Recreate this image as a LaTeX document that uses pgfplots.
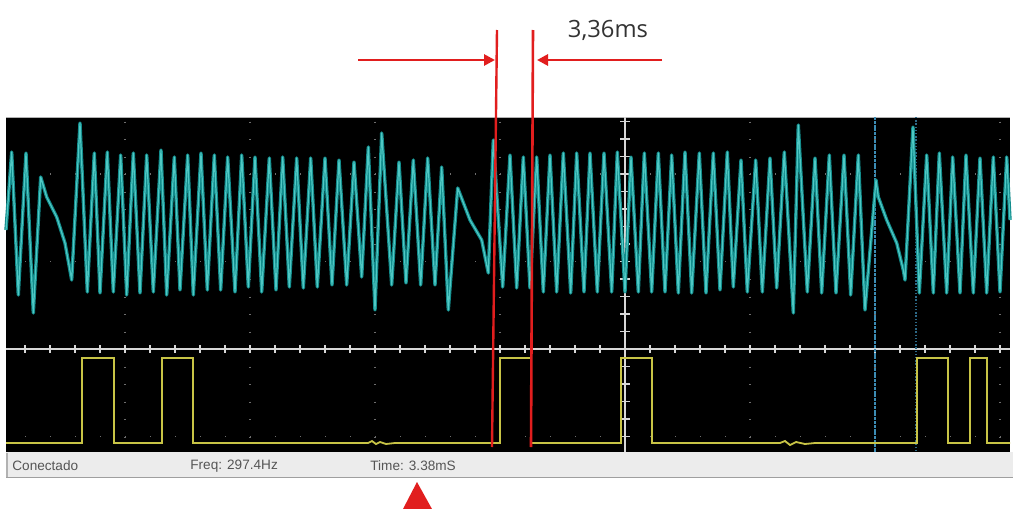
\documentclass[border=0pt]{standalone}
\usepackage{pgfplots}
\pgfplotsset{compat=1.18}
\usepackage{pgfplotstable}
\usetikzlibrary{arrows.meta}
\usepackage{fontspec}
\setmainfont{Liberation Sans}
\newfontfamily\opensans{Open Sans}

\definecolor{scopecyan}{RGB}{18,140,140}
\definecolor{scopecyanl}{RGB}{80,200,196}
\definecolor{scopeyel}{RGB}{200,196,70}
\definecolor{cursred}{RGB}{225,30,30}
\definecolor{gridgray}{RGB}{110,110,110}
\definecolor{axgray}{RGB}{215,215,215}
\definecolor{barbg}{RGB}{236,236,236}
\definecolor{bartext}{RGB}{85,85,85}
\definecolor{cursblue}{RGB}{60,140,180}
\definecolor{cursblueb}{RGB}{45,105,135}

% Channel A (cyan), pixel coordinates: x, y (y measured downward)
\pgfplotstableread{
x y
6 230
11.7 152
18.3 295
26 153
33.3 313
40.7 177
46.7 197
56.7 217
65 243
71.7 280
80 123
87.3 292
94.3 153
100 293
107.3 152
113.3 292
120.7 155
126.7 295
133.3 153
140 293
146.7 155
153.3 292
161 150
166.7 295
174.3 157
180 290
187.7 155
193.3 295
201 153
207.3 290
214.3 155
220.7 290
227.7 157
235 292
241.7 155
248.3 287
255 157
261.7 292
269.3 158
276 290
282.7 157
289.3 287
296.7 158
303.3 288
310.7 158
317.3 287
325 158
332 285
339 160
346.7 285
354 162
361.7 277
368.3 147
375 310
381.7 133
391.7 285
399 162
406 283
413.3 160
420.7 285
427.7 158
435 285
441.7 167
448.3 310
457.7 188
470 220
481.7 240
488.3 273
493.3 140
502.7 287
510 155
516.7 288
523.3 157
530 288
536.7 157
543.3 292
550 155
556.7 292
563.3 153
570.7 293
576.7 153
584 292
590 153
597.3 292
604 153
611.7 292
617.3 152
625 292
631 157
638.3 292
644.3 153
651.7 292
658.3 153
665 292
671.7 155
678.3 293
685 152
691.7 293
699.3 153
706 293
713.3 153
720 290
727.3 152
733.3 287
741 160
747.3 292
755.7 160
762.3 292
770 158
776.7 288
784.3 152
793.3 313
798.3 125
807.3 292
815 158
821.7 293
829.3 155
836 293
844 155
850.7 295
858.3 155
865 310
876 180
878.3 197
886.7 220
896.7 243
903.3 270
905 280
913 127
919.3 293
926.7 155
933.3 293
939.3 153
946.7 293
952.7 157
960 293
966 155
973.3 293
980 158
986.7 293
993.3 157
1000 292
1006.7 157
1010 220
}\chanA

% Channel B (yellow)
\pgfplotstableread{
x y
6 443
82 443
82 358
114 358
114 443
162 443
162 358
193 358
193 443
368 443
372 441
376 444
380 442
386 444
395 443
500 443
500 358
531 358
531 443
621 443
621 358
652 358
652 443
780 443
785 441
790 445
796 442
805 444
815 443
917 443
917 358
948 358
948 443
970 443
970 358
987 358
987 443
1010 443
}\chanB

\begin{document}
\begin{tikzpicture}
\begin{axis}[
  scale only axis, width=506.5pt, height=254.5pt,
  xmin=0, xmax=1013, ymin=0, ymax=509, y dir=reverse,
  axis lines=none, ticks=none, clip=true]
% background
\fill[white] (0,0) rectangle (1013,509);
\fill[black] (6,117) rectangle (1010,452);
\draw[gray!60, line width=0.5pt] (6,117) -- (1010,117);
% dotted grid
\pgfplotsinvokeforeach{125,250,375,500,750,875,1000}{
  \draw[gridgray, line width=0.7pt, dash pattern=on 0.7pt off 8.05pt] (#1,121.5) -- (#1,452);
}
\pgfplotsinvokeforeach{174,261.5,436.5}{
  \draw[gridgray, line width=0.7pt, dash pattern=on 0.7pt off 11.8pt] (25,#1) -- (1010,#1);
}
% center vertical axis with ticks
\draw[axgray, line width=0.6pt] (625,117) -- (625,452);
\pgfplotsinvokeforeach{121.5,139,156.5,174,191.5,209,226.5,244,261.5,279,296.5,314,331.5,366.5,384,401.5,419,436.5}{
  \draw[axgray, line width=0.6pt] (620,#1) -- (630,#1);
}
% horizontal divider with ticks
\draw[axgray, line width=0.8pt] (6,349) -- (1010,349);
\pgfplotsinvokeforeach{25,50,...,1000}{
  \draw[axgray, line width=0.6pt] (#1,345) -- (#1,353);
}
% blue cursors
\draw[cursblue, line width=1pt, dash pattern=on 1.5pt off 0.4pt] (875,117) -- (875,452);
\draw[cursblueb, line width=0.9pt, dash pattern=on 0.7pt off 0.9pt] (916,117) -- (916,452);
% traces
\addplot[scopecyan, line width=1.7pt, line join=round, no markers] table[x=x,y=y] {\chanA};
\addplot[scopecyanl, line width=0.6pt, line join=round, no markers] table[x=x,y=y] {\chanA};
\addplot[scopeyel, line width=0.9pt, no markers] table[x=x,y=y] {\chanB};
% red measurement cursors
\draw[cursred, line width=1.2pt] (497,30) -- (492,447);
\draw[cursred, line width=1.3pt] (533,30) -- (531,447);
\draw[cursred, line width=1.4pt, -{Triangle[length=5.5pt,width=5.5pt]}] (358,60) -- (495,60);
\draw[cursred, line width=1.4pt, -{Triangle[length=5.5pt,width=5.5pt]}] (662,60) -- (537,60);
\node[font=\opensans\fontsize{11.9}{14}\selectfont, text=black!80, inner sep=0pt] at (608,30) {3,36ms};
% status bar
\fill[barbg] (6,452) rectangle (1013,477);
\draw[gray!75, line width=0.9pt] (6,477.5) -- (1013,477.5);
\draw[gray!60, line width=0.5pt] (7,453) -- (7,477);
\node[anchor=west, font=\fontsize{6.8}{8}\selectfont, text=bartext, inner sep=0pt] at (12,466) {Conectado};
\node[anchor=west, font=\fontsize{6.8}{8}\selectfont, text=bartext, inner sep=0pt] at (190,466) {Freq: 297.4Hz};
\node[anchor=west, font=\fontsize{6.8}{8}\selectfont, text=bartext, inner sep=0pt] at (370,466) {Time: 3.38mS};
% red marker
\fill[cursred] (417,482) -- (432,509) -- (403,509) -- cycle;
\end{axis}
\end{tikzpicture}
\end{document}
